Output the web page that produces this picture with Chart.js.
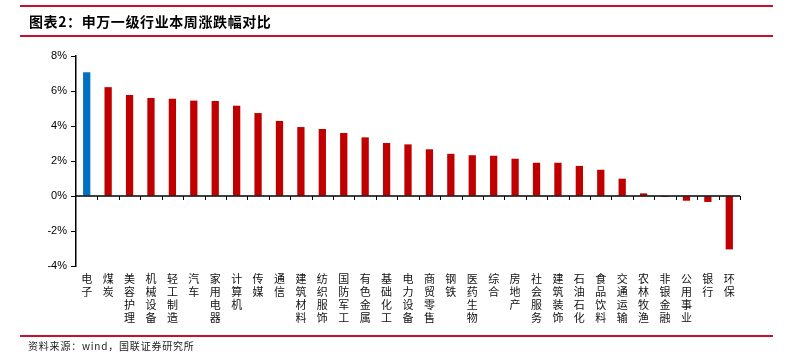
<!DOCTYPE html>
<html>
<head>
<meta charset="utf-8">
<script src="https://cdn.jsdelivr.net/npm/chart.js@4"></script>
<style>
  body { margin: 0; background: #fff; }
  #wrap { position: relative; width: 789px; height: 354px; overflow: hidden; }
  .rule { position: absolute; left: 20px; width: 753px; height: 2px; background: #c8102e; }
  #title { position: absolute; left: 29px; top: 11px; font: bold 14px "Noto Sans CJK SC", sans-serif; letter-spacing: 0.6px; color: #000; }
  #source { position: absolute; left: 28px; top: 338px; font: 10px "Noto Sans CJK SC", sans-serif; letter-spacing: 0.8px; color: #222; }
  #box { position: absolute; left: 0; top: 0; width: 789px; height: 354px; }
</style>
</head>
<body>
<div id="wrap">
  <div id="box"><canvas id="chart"></canvas></div>
  <div class="rule" style="top:5px"></div>
  <div id="title">图表2：申万一级行业本周涨跌幅对比</div>
  <div class="rule" style="top:35px"></div>
  <div class="rule" style="top:335px"></div>
  <div id="source">资料来源：wind，国联证券研究所</div>
</div>
<script>
// 申万一级行业 weekly change (%)
const industries = ["电子", "煤炭", "美容护理", "机械设备", "轻工制造", "汽车", "家用电器", "计算机",
    "传媒", "通信", "建筑材料", "纺织服饰", "国防军工", "有色金属", "基础化工", "电力设备",
    "商贸零售", "钢铁", "医药生物", "综合", "房地产", "社会服务", "建筑装饰", "石油石化",
    "食品饮料", "交通运输", "农林牧渔", "非银金融", "公用事业", "银行", "环保"];
const weeklyChange = [7.07, 6.22, 5.77, 5.60, 5.56, 5.45, 5.43, 5.16,
    4.74, 4.29, 3.94, 3.83, 3.60, 3.35, 3.03, 2.95,
    2.67, 2.41, 2.33, 2.30, 2.13, 1.90, 1.90, 1.72,
    1.50, 0.99, 0.15, -0.06, -0.27, -0.34, -3.05];
const yTicks = [-4, -2, 0, 2, 4, 6, 8];
const highlight = "电子";

// stack each character on its own line (vertical labels)
const labels = industries.map(n => n.split(""));
const colors = industries.map(n => n === highlight ? "#0070c0" : "#c00000");

// zero line with small ticks between categories
const zeroAxis = {
    id: "zeroAxis",
    afterDatasetsDraw(chart) {
        const { ctx, chartArea, scales: { x, y } } = chart;
        const y0 = y.getPixelForValue(0);
        const half = (x.getPixelForValue(1) - x.getPixelForValue(0)) / 2;
        ctx.save();
        ctx.strokeStyle = "#000";
        ctx.lineWidth = 1.5;
        ctx.beginPath();
        ctx.moveTo(chartArea.left, y0);
        ctx.lineTo(chartArea.right, y0);
        ctx.stroke();
        ctx.lineWidth = 1;
        ctx.beginPath();
        for (let i = 0; i < industries.length; i++) {
            const px = Math.round(x.getPixelForValue(i) + half) + 0.5;
            ctx.moveTo(px, y0);
            ctx.lineTo(px, y0 + 4);
        }
        ctx.stroke();
        ctx.restore();
    }
};

new Chart(document.getElementById("chart"), {
    type: "bar",
    data: {
        labels: labels,
        datasets: [{
            data: weeklyChange,
            backgroundColor: colors,
            barPercentage: 0.34,
            categoryPercentage: 1
        }]
    },
    options: {
        responsive: true,
        maintainAspectRatio: false,
        animation: false,
        layout: { padding: { left: 0, right: 49, top: 56, bottom: 0 } },
        plugins: { legend: { display: false }, tooltip: { enabled: false } },
        scales: {
            x: {
                grid: { display: false, drawTicks: false },
                border: { display: false },
                ticks: {
                    autoSkip: false, maxRotation: 0, minRotation: 0, padding: 6,
                    color: "#111",
                    font: { family: "'Noto Sans CJK SC'", size: 11, lineHeight: 1.2 }
                },
                afterFit(scale) { scale.height = 88; }
            },
            y: {
                min: -4, max: 8,
                afterBuildTicks(scale) { scale.ticks = yTicks.map(v => ({ value: v })); },
                grid: { drawOnChartArea: false, drawTicks: true, tickLength: 5, color: "#000", lineWidth: 1 },
                border: { display: true, color: "#000", width: 1.5 },
                ticks: {
                    padding: 4, color: "#000",
                    font: { family: "Arial, 'Liberation Sans'", size: 11 },
                    callback: v => v + "%"
                },
                afterFit(scale) { scale.width = 76; }
            }
        }
    },
    plugins: [zeroAxis]
});
</script>
</body>
</html>
